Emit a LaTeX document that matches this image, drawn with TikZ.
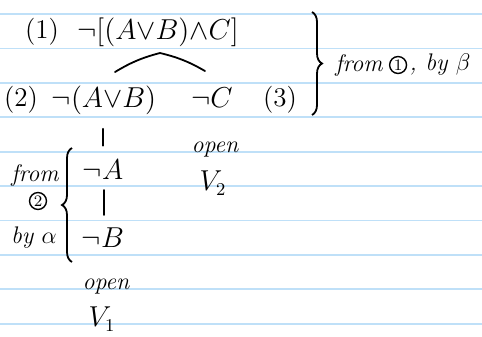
\documentclass[tikz,border=0pt]{standalone}
\usepackage{fontspec}
\usepackage{amsmath}
\usetikzlibrary{decorations.pathreplacing,calc,positioning}
\definecolor{paperBlue}{HTML}{BFE0F8}

\begin{document}
\begin{tikzpicture}[x=0.5pt,y=-0.5pt,
  formula/.style={inner sep=1pt,font=\fontsize{13.5}{16}\selectfont},
  note/.style={inner sep=1pt,font=\fontsize{12}{14}\selectfont\itshape},
  circnum/.style={draw,circle,line width=0.7pt,inner sep=0.6pt,font=\fontsize{8}{9}\selectfont},
  paperline/.style={paperBlue,line width=0.9pt},
  tick/.style={black,line width=0.9pt,line cap=round},
  bracket/.style={black,line width=0.9pt,decorate,decoration={brace,amplitude=5pt}}]
  \useasboundingbox (0,0) rectangle (482,337);
  % ruled paper
  \foreach \k in {0,...,9}
    \draw[paperline] (0,{14+34.4*\k}) -- (482,{14+34.4*\k});

  \node[formula] (lab1) at (42,32) {(1)};
  \node[formula] (f1) at (158,32) {$\neg[(A{\vee}B){\wedge}C]$};
  \node[formula] (lab2) at (21,100) {(2)};
  \node[formula] (f2) at (104,100) {$\neg(A{\vee}B)$};
  \node[formula] (f3) at (212,98) {$\neg C$};
  \node[formula] (lab3) at (280,100) {(3)};
  \node[note,anchor=west] (from1) at (333,65) {from};
  \node[circnum,right=2pt of from1] (circ1) {1};
  \node[note,right=0pt of circ1] (by1) {, by $\beta$};
  \node[formula] (f4) at (103,170) {$\neg A$};
  \node[formula] (f5) at (103,238) {$\neg B$};
  \node[note] (from2) at (35,175) {from};
  \node[circnum] (circ2) at (38,201) {2};
  \node[note] (byalpha) at (34,238) {by $\alpha$};
  \node[note] (open1) at (106,287) {open};
  \node[formula] (v1) at (102,319) {$V_1$};
  \node[note] (open2) at (215,150) {open};
  \node[formula] (v2) at (213,183) {$V_2$};

  % branching of (1)
  \coordinate (splitL) at (115,72);
  \coordinate (splitTop) at (160,53);
  \coordinate (splitR) at (205,71);
  \draw[tick] (splitL) to[bend left=8] (splitTop) to[bend left=8] (splitR);

  \draw[tick,shorten <=6pt,shorten >=6pt] (f2.south -| f4) -- (f4.north);
  \draw[tick] ($(f4)+(1,20)$) -- ($(f5)+(1,-23)$);

  \coordinate (braceTop) at (312,12);
  \coordinate (braceBot) at (312,115);
  \draw[bracket] (braceTop) -- (braceBot);
  \coordinate (lbraceTop) at (72,148);
  \coordinate (lbraceBot) at (72,262);
  \draw[bracket] (lbraceBot) -- (lbraceTop);
\end{tikzpicture}
\end{document}
